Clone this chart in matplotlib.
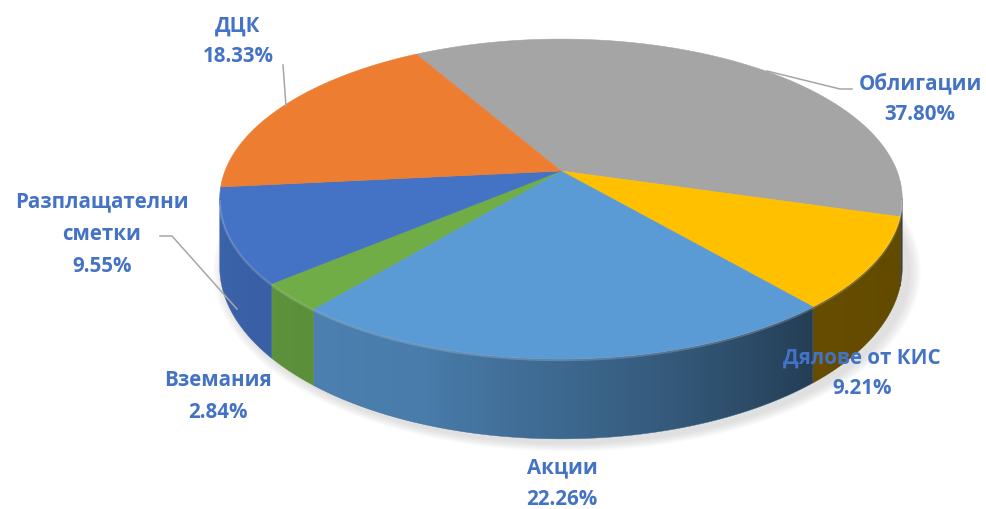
import numpy as np
import matplotlib
matplotlib.use("Agg")
import matplotlib.pyplot as plt
from matplotlib.patches import Polygon

# ---- data ----
categories = ["Облигации", "Дялове от КИС", "Акции", "Вземания",
              "Разплащателни\nсметки", "ДЦК"]
values = [37.80, 9.21, 22.26, 2.84, 9.55, 18.33]
pct_labels = ["37.80%", "9.21%", "22.26%", "2.84%", "9.55%", "18.33%"]

# ---- style ----
colors = ["#A5A5A5", "#FFC000", "#5B9BD5", "#70AD47", "#4472C4", "#ED7D31"]
label_color = "#4472C4"
leader_color = "#A6A6A6"

# geometry of the 3D pie (pixel space)
CX, CY = 561.0, 172.0
A, B = 336.0, 155.0
K = 0.175          # perspective factor
DEPTH = 66.0
START = 119.8      # degrees (math convention), slices go clockwise


def proj(theta_deg, r=1.0):
    t = np.radians(theta_deg)
    u = r * np.cos(t)
    v = r * np.sin(t)
    s = 1.0 / (1.0 + K * v)
    return CX + A * u * s, CY - B * v * s, s


def shade(theta):
    th = np.array([-180, -170, -110, -75, -50, -10, 0])
    f = np.array([0.88, 0.88, 0.80, 0.58, 0.40, 0.38, 0.38])
    return np.interp(theta, th, f)


def hex2rgb(h):
    h = h.lstrip("#")
    return np.array([int(h[i:i + 2], 16) for i in (0, 2, 4)]) / 255.0


fig = plt.figure(figsize=(9.87, 5.10), dpi=100)
ax = fig.add_axes([0, 0, 1, 1])
ax.set_xlim(0, 987)
ax.set_ylim(510, 0)
ax.axis("off")

total = sum(values)
bounds = [START]
for v in values:
    bounds.append(bounds[-1] - v / total * 360.0)

# ---- soft shadow under the pie ----
for grow in np.linspace(14, 2, 7):
    pts = []
    for t in np.linspace(-200, 20, 240):
        x, y, s = proj(t)
        pts.append((x + 6 + grow * np.cos(np.radians(t)) * 0.9,
                    y + DEPTH * s + 4 - grow * np.sin(np.radians(t)) * 0.6))
    ax.add_patch(Polygon(pts, closed=True, facecolor="#808080",
                         edgecolor="none", alpha=0.035, zorder=1))

# rim x as function of angle on the visible front arc (monotonic)
arc_t = np.linspace(-170, -10, 2000)
arc_x = np.array([proj(t)[0] for t in arc_t])

# ---- side walls (gradient fill clipped to wall polygon) ----
for c, t0, t1 in zip(colors, bounds[:-1], bounds[1:]):
    segs = []
    for off in (0, -360, 360):
        a0 = max(t1 + off, -170.0)
        a1 = min(t0 + off, -10.0)
        if a1 > a0:
            segs.append((a0, a1))
    base = hex2rgb(c)
    for a0, a1 in segs:
        tt = np.linspace(a0, a1, max(4, int((a1 - a0) * 4)))
        top = [proj(t) for t in tt]
        upper = [(x, y) for x, y, s in top]
        lower = [(x, y + DEPTH * s) for x, y, s in top][::-1]
        poly = Polygon(upper + lower, closed=True, facecolor="none",
                       edgecolor="none")
        ax.add_patch(poly)
        xs = [p[0] for p in upper + lower]
        ys = [p[1] for p in upper + lower]
        x0, x1 = min(xs) - 1, max(xs) + 1
        y0, y1 = min(ys) - 1, max(ys) + 1
        ncol = max(2, int(x1 - x0) * 2)
        colx = np.linspace(x0, x1, ncol)
        th = np.interp(colx, arc_x, arc_t)
        f = shade(th)
        img = np.clip(base[None, None, :] * f[None, :, None], 0, 1)
        im = ax.imshow(img, extent=(x0, x1, y1, y0), aspect="auto",
                       interpolation="bilinear", zorder=2)
        im.set_clip_path(poly)
        # thin edge to avoid hairline gaps between walls
        ax.add_patch(Polygon(upper + lower, closed=True, facecolor="none",
                             edgecolor=np.clip(base * shade((a0 + a1) / 2), 0, 1),
                             linewidth=0.3, zorder=2))

ax.set_xlim(0, 987)
ax.set_ylim(510, 0)

# ---- top faces ----
for c, t0, t1 in zip(colors, bounds[:-1], bounds[1:]):
    tt = np.linspace(t0, t1, max(3, int(abs(t0 - t1) * 2)))
    pts = [(CX, CY)] + [proj(t)[:2] for t in tt]
    ax.add_patch(Polygon(pts, closed=True, facecolor=c, edgecolor=c,
                         linewidth=0.4, zorder=3))

# subtle highlight along the front rim of the top face
tt = np.linspace(-170, -10, 300)
rim = np.array([proj(t)[:2] for t in tt])
ax.plot(rim[:, 0], rim[:, 1] + 1.2, color="white", alpha=0.18, lw=1.6,
        zorder=4, solid_capstyle="butt")

# ---- labels ----
# x centre and the y centre of each text line (name lines..., percent)
label_pos = [(920, [83, 115]), (862, [358, 389]), (562, [468, 500]),
             (218, [381, 413]), (102, [202, 235, 267]), (238, [26, 56])]
font = dict(family=["Open Sans", "DejaVu Sans"], fontweight="bold",
            color=label_color, fontsize=14.8)
for name, pct, (x, ys) in zip(categories, pct_labels, label_pos):
    lines = name.split("\n") + [pct]
    for txt, y in zip(lines, ys):
        ax.text(x, y, txt, ha="center", va="center", zorder=6, **font)

# leader lines
leaders = [
    [(852, 90), (840, 90), (767, 72)],
    [(160, 237), (172, 237), (237, 310)],
    [(283, 66), (286, 107)],
]
for ln in leaders:
    arr = np.array(ln)
    ax.plot(arr[:, 0], arr[:, 1], color=leader_color, lw=1.1, zorder=5)

fig.savefig("out.png", dpi=100)
